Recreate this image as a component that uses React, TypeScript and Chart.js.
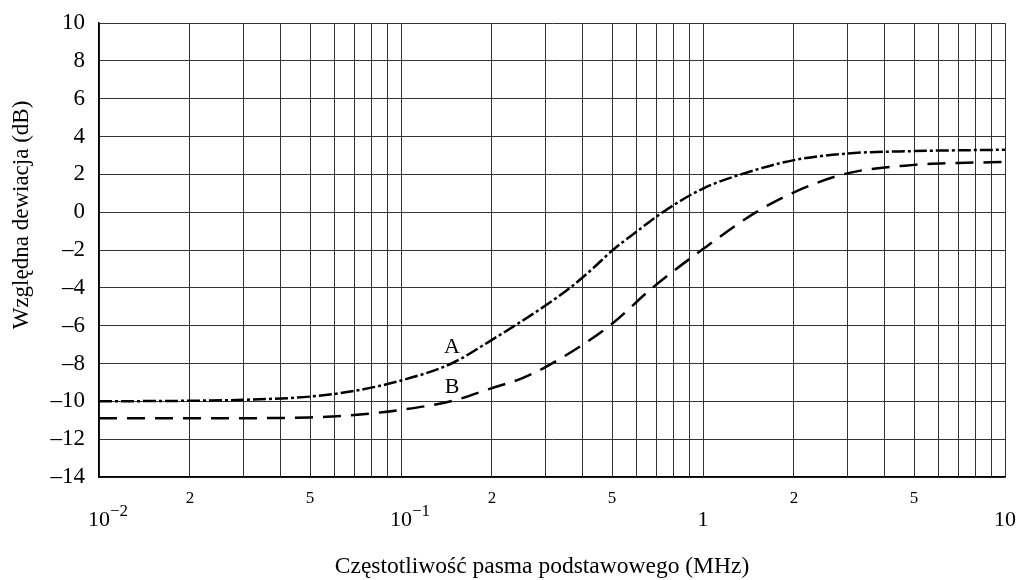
import { useEffect, useRef } from "react";
import { Chart, registerables } from "chart.js";

Chart.register(...registerables);

// Curve A (dash-dot)
const freqA = [0.01, 0.02, 0.03, 0.05, 0.07, 0.1, 0.147, 0.2, 0.238, 0.3, 0.363, 0.43, 0.503, 0.6, 0.736, 1, 1.4, 2, 3, 5, 7, 10];
const devA = [-10, -9.97, -9.92, -9.75, -9.45, -8.9, -8.0, -6.75, -6.0, -4.95, -4.0, -3.0, -2.0, -1.05, 0.0, 1.25, 2.1, 2.75, 3.1, 3.23, 3.27, 3.3];

// Curve B (dashed)
const freqB = [0.01, 0.02, 0.05, 0.07, 0.1, 0.15, 0.2, 0.25, 0.3, 0.4, 0.5, 0.68, 1, 1.5, 2, 3, 5, 7, 10];
const devB = [-10.9, -10.9, -10.85, -10.72, -10.45, -9.95, -9.3, -8.8, -8.2, -7.0, -5.9, -4.0, -1.95, 0.0, 1.05, 2.05, 2.5, 2.6, 2.65];

// Grid / tick positions
const gridFreqs = [
  0.01, 0.02, 0.03, 0.04, 0.05, 0.06, 0.07, 0.08, 0.09,
  0.1, 0.2, 0.3, 0.4, 0.5, 0.6, 0.7, 0.8, 0.9,
  1, 2, 3, 4, 5, 6, 7, 8, 9, 10,
];
const decadeValues = [0.01, 0.1, 1, 10];
const decadeBase = ["10", "10", "1", "10"];
const decadeExp = ["\u22122", "\u22121", "", ""];
const minorLabelValues = [0.02, 0.05, 0.2, 0.5, 2, 5];
const minorLabels = ["2", "5", "2", "5", "2", "5"];

const curveLabelText = ["A", "B"];
const curveLabelX = [0.1475, 0.1475];
const curveLabelY = [-7.13, -9.24];

const xTitle = "Częstotliwość pasma podstawowego (MHz)";
const yTitle = "Względna dewiacja (dB)";

const FONT = "'Liberation Serif', 'Times New Roman', serif";

const labelPlugin = {
  id: "customLabels",
  afterDraw(chart: any) {
    const ctx = chart.ctx;
    const xs = chart.scales.x;
    const ys = chart.scales.y;
    ctx.save();
    ctx.fillStyle = "#000";
    ctx.textBaseline = "middle";
    // decade labels
    decadeValues.forEach((v, i) => {
      const px = xs.getPixelForValue(v);
      ctx.font = `22px ${FONT}`;
      ctx.textAlign = "center";
      ctx.fillText(decadeBase[i], px, 520);
      if (decadeExp[i]) {
        const w = ctx.measureText(decadeBase[i]).width;
        ctx.font = `17px ${FONT}`;
        ctx.textAlign = "left";
        ctx.fillText(decadeExp[i], px + w / 2, 512);
      }
    });
    // minor labels
    ctx.font = `17px ${FONT}`;
    ctx.textAlign = "center";
    minorLabelValues.forEach((v, i) => {
      ctx.fillText(minorLabels[i], xs.getPixelForValue(v), 499);
    });
    // curve labels
    ctx.font = `22px ${FONT}`;
    curveLabelText.forEach((t, i) => {
      ctx.fillText(t, xs.getPixelForValue(curveLabelX[i]), ys.getPixelForValue(curveLabelY[i]));
    });
    // axis titles
    ctx.textBaseline = "alphabetic";
    ctx.textAlign = "center";
    ctx.font = `23.5px ${FONT}`;
    ctx.fillText(xTitle, 542, 573);
    ctx.translate(28, 215);
    ctx.rotate(-Math.PI / 2);
    ctx.font = `23px ${FONT}`;
    ctx.fillText(yTitle, 0, 0);
    ctx.restore();
  },
};

export default function App() {
  const ref = useRef<HTMLCanvasElement>(null);

  useEffect(() => {
    if (!ref.current) return;
    const chart = new Chart(ref.current, {
      type: "line",
      data: {
        datasets: [
          {
            label: "A",
            data: freqA.map((f, i) => ({ x: f, y: devA[i] })),
            borderColor: "#000",
            borderWidth: 2.5,
            borderDash: [13, 3, 3, 3],
            pointRadius: 0,
            cubicInterpolationMode: "monotone",
            fill: false,
          },
          {
            label: "B",
            data: freqB.map((f, i) => ({ x: f, y: devB[i] })),
            borderColor: "#000",
            borderWidth: 2.5,
            borderDash: [18, 10],
            pointRadius: 0,
            cubicInterpolationMode: "monotone",
            fill: false,
          },
        ],
      },
      options: {
        responsive: false,
        animation: false,
        layout: { padding: { left: 0, right: 15, top: 23, bottom: 0 } },
        plugins: { legend: { display: false }, tooltip: { enabled: false } },
        scales: {
          x: {
            type: "logarithmic",
            min: 0.01,
            max: 10,
            afterBuildTicks: (s: any) => {
              s.ticks = gridFreqs.map((v) => ({ value: v }));
            },
            afterFit: (s: any) => {
              s.height = 103;
              s.paddingLeft = 0;
              s.paddingRight = 0;
            },
            ticks: { display: false },
            grid: { color: "#333", lineWidth: 1, drawTicks: false },
            border: { display: true, color: "#000", width: 1.5 },
            title: { display: false },
          },
          y: {
            min: -14,
            max: 10,
            afterFit: (s: any) => {
              s.width = 99;
              s.paddingTop = 0;
              s.paddingBottom = 0;
            },
            ticks: {
              stepSize: 2,
              color: "#000",
              padding: 14,
              font: { family: FONT, size: 23 },
              callback: (v: any) => (v < 0 ? "\u2013" + Math.abs(v) : String(v)),
            },
            grid: { color: "#333", lineWidth: 1, drawTicks: false },
            border: { display: true, color: "#000", width: 1.5 },
            title: { display: false },
          },
        },
      },
      plugins: [labelPlugin],
    } as any);
    return () => chart.destroy();
  }, []);

  return (
    <div style={{ position: "fixed", left: 0, top: 0, width: 1020, height: 580, background: "#fff" }}>
      <canvas ref={ref} width={1020} height={580} />
    </div>
  );
}
